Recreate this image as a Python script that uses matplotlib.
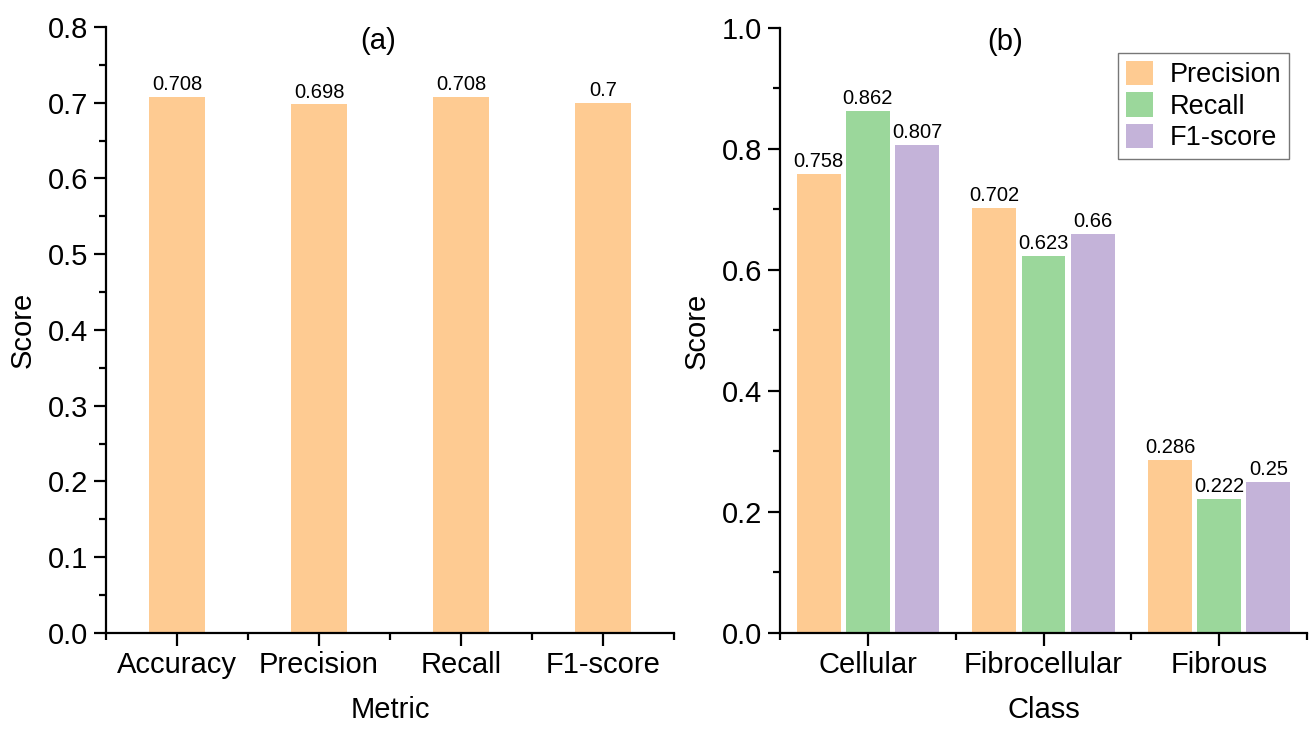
import numpy as np
import matplotlib
matplotlib.use("Agg")
import matplotlib.pyplot as plt
from matplotlib.ticker import MultipleLocator, FixedLocator

plt.rcParams['font.family'] = ['Liberation Sans', 'DejaVu Sans']

# panel (a): overall metrics
metrics = ["Accuracy", "Precision", "Recall", "F1-score"]
overall = [0.708, 0.698, 0.708, 0.7]

# panel (b): per-class metrics
classes = ["Cellular", "Fibrocellular", "Fibrous"]
precision = [0.758, 0.702, 0.286]
recall = [0.862, 0.623, 0.222]
f1 = [0.807, 0.66, 0.25]

c_prec = "#FECB92"
c_rec = "#9BD79B"
c_f1 = "#C4B3D9"

fig = plt.figure(figsize=(13.14, 7.29), dpi=100)
ax1 = fig.add_axes([0.0807, 0.1317, 0.4323, 0.8313])
ax2 = fig.add_axes([0.5936, 0.1317, 0.4011, 0.8299])


def style(ax, ymax, ymajor, yminor, ncat):
    for s in ["top", "right"]:
        ax.spines[s].set_visible(False)
    for s in ["left", "bottom"]:
        ax.spines[s].set_linewidth(1.6)
    ax.set_ylim(0, ymax)
    ax.set_xlim(-0.5, ncat - 0.5)
    ax.yaxis.set_major_locator(MultipleLocator(ymajor))
    ax.yaxis.set_minor_locator(MultipleLocator(yminor))
    ax.xaxis.set_minor_locator(FixedLocator(np.arange(ncat + 1) - 0.5))
    ax.tick_params(which="major", direction="out", length=9, width=1.6, labelsize=21, pad=4)
    ax.tick_params(which="minor", direction="out", length=5, width=1.6)
    ax.set_ylabel("Score", fontsize=21, labelpad=8)


# (a)
x = np.arange(len(metrics))
bars = ax1.bar(x, overall, width=0.4, color=c_prec)
for b, v in zip(bars, overall):
    ax1.text(b.get_x() + b.get_width() / 2, v + 0.003, f"{v:g}", ha="center", va="bottom", fontsize=14.5)
style(ax1, 0.8, 0.1, 0.05, len(metrics))
ax1.set_xticks(x)
ax1.set_xticklabels(metrics)
ax1.set_xlabel("Metric", fontsize=21, labelpad=12)
ax1.text(0.479, 1.0, "(a)", transform=ax1.transAxes, ha="center", va="top", fontsize=21)

# (b)
x = np.arange(len(classes))
off = 0.28
w = 0.25
for vals, dx, col, lab in [(precision, -off, c_prec, "Precision"),
                           (recall, 0, c_rec, "Recall"),
                           (f1, off, c_f1, "F1-score")]:
    bb = ax2.bar(x + dx, vals, width=w, color=col, label=lab)
    for b, v in zip(bb, vals):
        ax2.text(b.get_x() + b.get_width() / 2, v + 0.005, f"{v:g}", ha="center", va="bottom", fontsize=14.5)
style(ax2, 1.0, 0.2, 0.1, len(classes))
ax2.set_xticks(x)
ax2.set_xticklabels(classes)
ax2.set_xlabel("Class", fontsize=21, labelpad=12)
ax2.text(0.427, 1.0, "(b)", transform=ax2.transAxes, ha="center", va="top", fontsize=21)
leg = ax2.legend(loc="upper right", bbox_to_anchor=(0.966, 0.959), borderaxespad=0,
                 fontsize=19.5, fancybox=False, edgecolor="#555555", handlelength=1.0,
                 handleheight=1.0, handletextpad=0.6, borderpad=0.3, labelspacing=0.15)
leg.get_frame().set_linewidth(1.0)

fig.savefig("out.png", dpi=100)
